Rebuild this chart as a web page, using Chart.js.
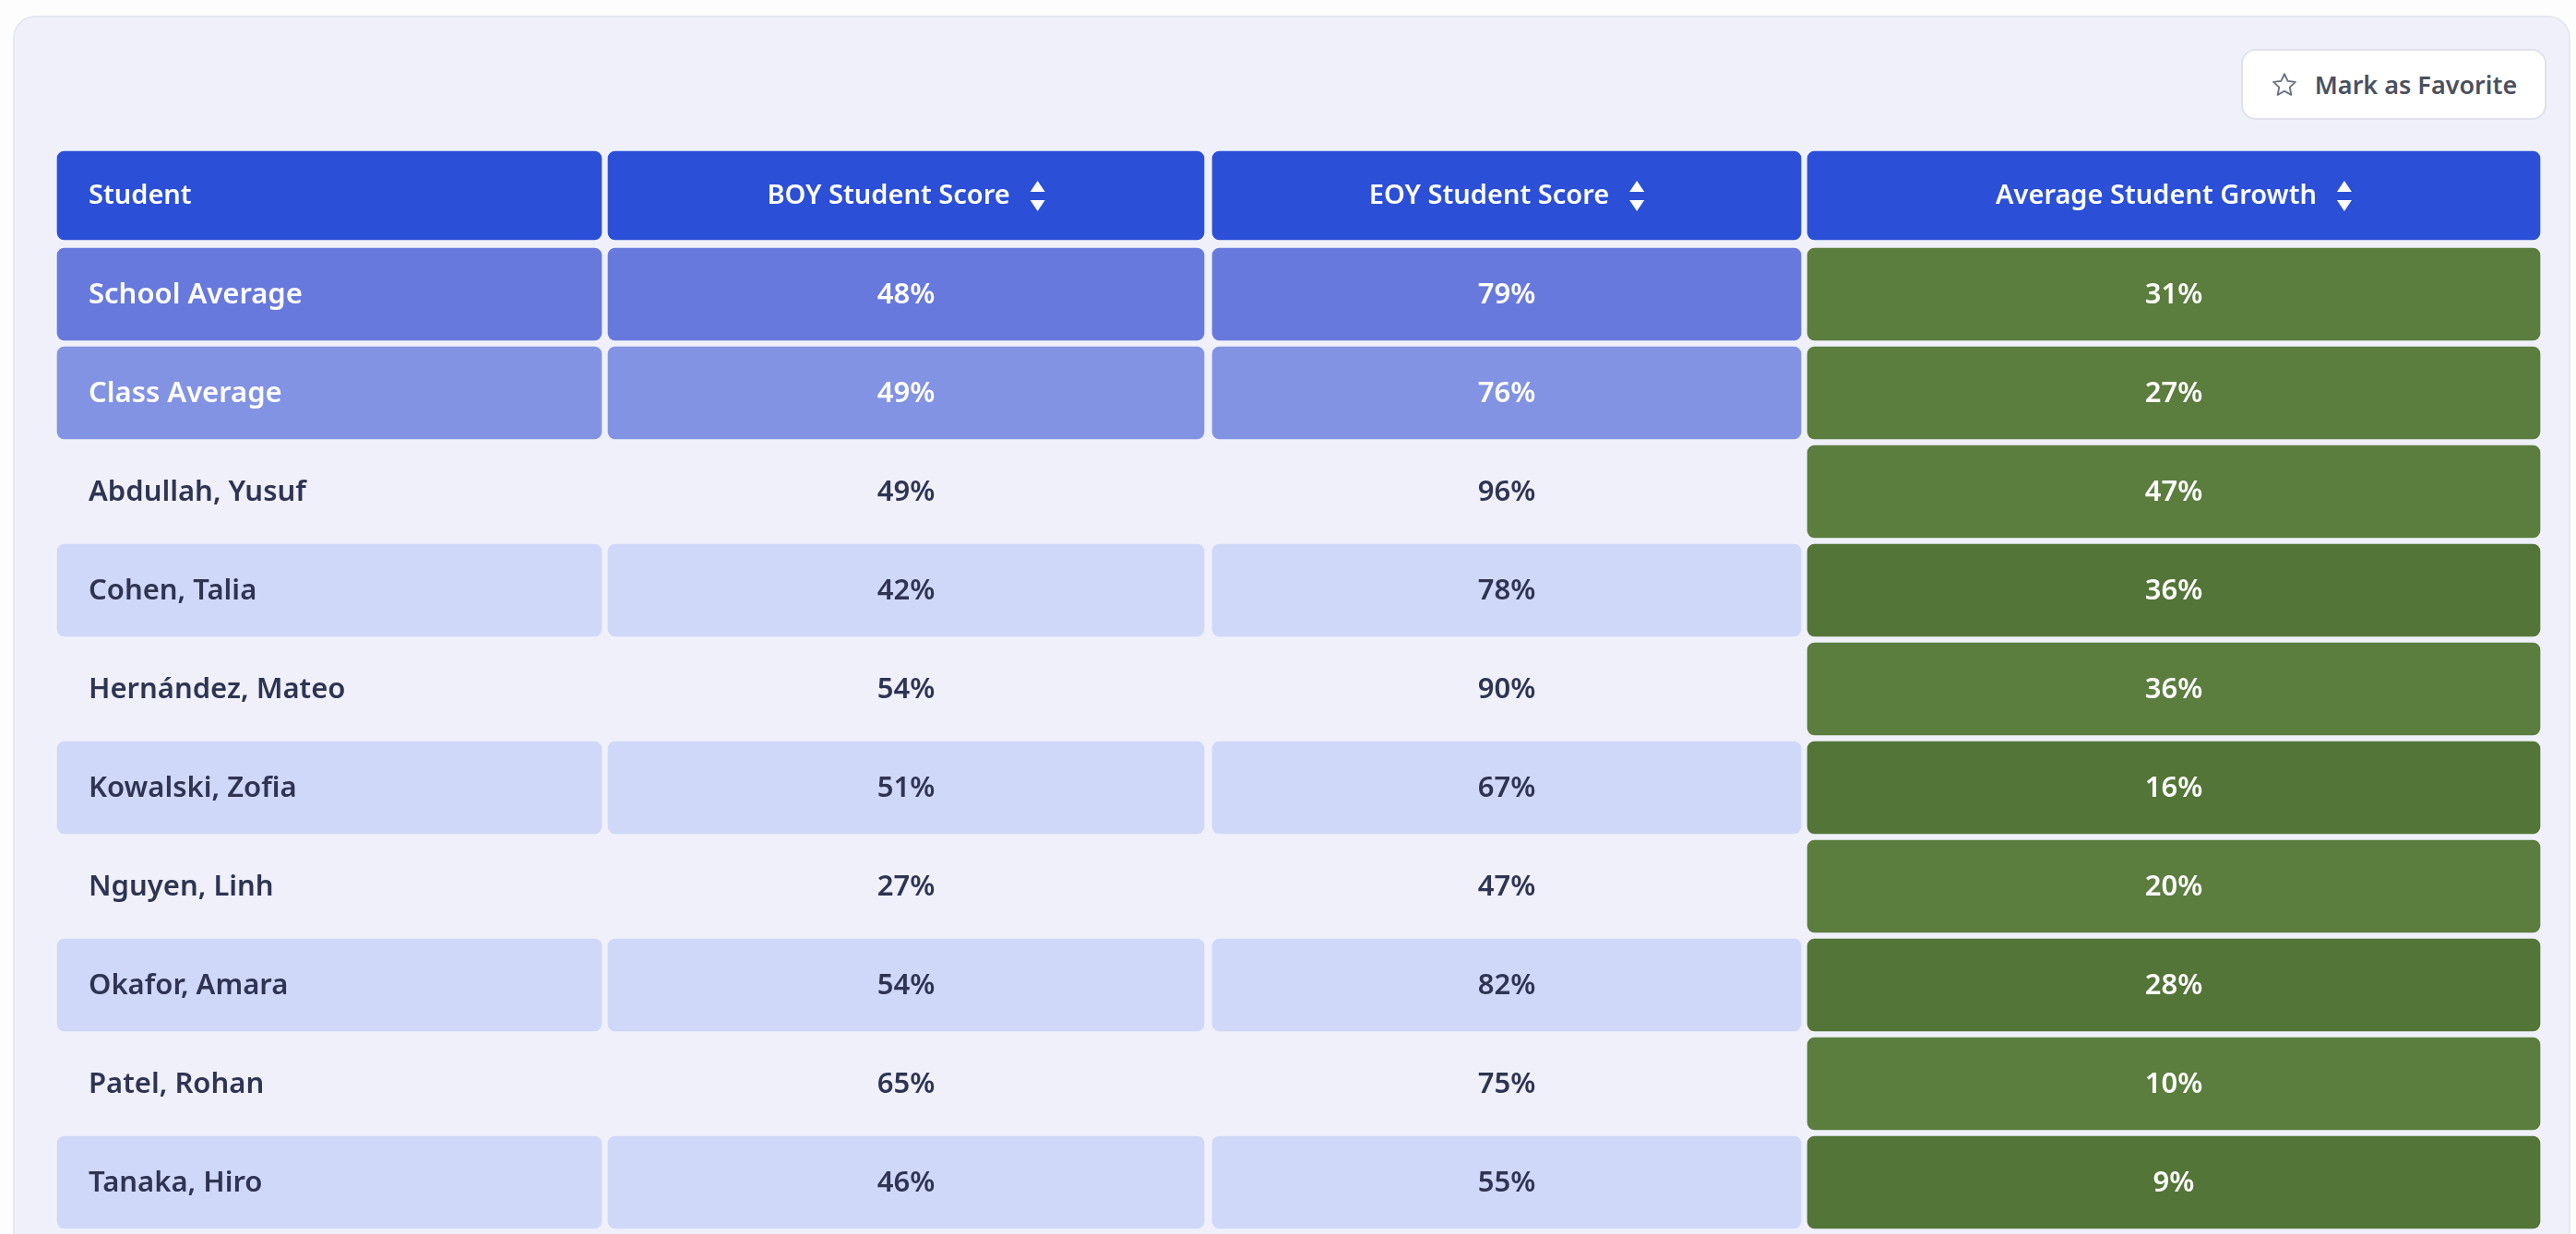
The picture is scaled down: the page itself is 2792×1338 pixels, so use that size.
<!DOCTYPE html>
<html lang="en">
<head>
<meta charset="UTF-8">
<title>Student Growth Table</title>
<script src="https://cdn.jsdelivr.net/npm/chart.js@4.4.0/dist/chart.umd.min.js"></script>
<style>
/* --- page + card ------------------------------------------------ */
html,body{margin:0;padding:0;background:#fdfdfe;width:2792px;height:1338px;overflow:hidden;font-family:'Noto Sans',Lato,sans-serif}
.card{position:absolute;left:14px;top:17px;width:2772px;height:1400px;background:#eff0fa;border:2px solid #e6e8f1;border-radius:24px;box-sizing:border-box}
#tableChart{position:absolute;left:0;top:0}
.favBtn{position:absolute;left:2429px;top:53px;width:331px;height:77px;box-sizing:border-box;background:#fff;border:2px solid #dfe2ea;border-radius:16px;display:flex;align-items:center;justify-content:center;gap:18px;font:600 27px 'Noto Sans',sans-serif;color:#4b505e}
.favBtn svg{width:30px;height:30px}
</style>
</head>
<body>

<div class="card"></div>
<canvas id="tableChart" width="2792" height="1338"></canvas>
<div class="favBtn">
  <svg viewBox="0 0 24 24"><path d="M12 2.6l2.9 6.1 6.6.8-4.9 4.6 1.3 6.6L12 17.4l-5.9 3.3 1.3-6.6-4.9-4.6 6.6-.8z" fill="none" stroke="#6b7080" stroke-width="1.5" stroke-linejoin="round"/></svg>
  <span>Mark as Favorite</span>
</div>

<script>
/* ---------- data ---------- */
const headers = ['Student', 'BOY Student Score', 'EOY Student Score', 'Average Student Growth'];
const students = ['School Average', 'Class Average', 'Abdullah, Yusuf', 'Cohen, Talia', 'Hernández, Mateo',
  'Kowalski, Zofia', 'Nguyen, Linh', 'Okafor, Amara', 'Patel, Rohan', 'Tanaka, Hiro'];
const boyScores = [48, 49, 49, 42, 54, 51, 27, 54, 65, 46];
const eoyScores = [79, 76, 96, 78, 90, 67, 47, 82, 75, 55];
const growthScores = [31, 27, 47, 36, 36, 16, 20, 28, 10, 9];

/* ---------- layout (pixel units on the x scale) ---------- */
const COLS = [[62, 652], [659, 1305], [1314, 1952], [1959, 2753]];
const rowKeys = ['header', ...students];

const C = {
  header: '#2b4fd7', school: '#6879dd', klass: '#8393e3', band: '#d0d8f9',
  green: '#5b7d3e', greenDark: '#537537', ink: '#2e3452'
};

function cellColor(col, row) {          // row = index into students
  if (col === 3) return (row >= 2 && (row - 2) % 2 === 1) ? C.greenDark : C.green;
  if (row === 0) return C.school;
  if (row === 1) return C.klass;
  return (row - 2) % 2 === 1 ? C.band : 'rgba(0,0,0,0)';
}

const datasets = [];
COLS.forEach((span, c) => {
  // header cell
  datasets.push({
    data: rowKeys.map((k, i) => i === 0 ? span : null),
    backgroundColor: C.header, barThickness: 96
  });
  // body cells
  datasets.push({
    data: rowKeys.map((k, i) => i === 0 ? null : span),
    backgroundColor: ctx => cellColor(c, ctx.dataIndex - 1), barThickness: 100
  });
});

/* ---------- text + sort icons ---------- */
const columnValues = [students, boyScores, eoyScores, growthScores];

function sortIcon(g, x, y) {
  g.beginPath();
  g.moveTo(x, y - 4); g.lineTo(x + 8, y - 16); g.lineTo(x + 16, y - 4); g.closePath();
  g.moveTo(x, y + 5); g.lineTo(x + 8, y + 17); g.lineTo(x + 16, y + 5); g.closePath();
  g.fill();
}

const cellText = {
  id: 'cellText',
  afterDatasetsDraw(chart) {
    const g = chart.ctx, xs = chart.scales.x, ys = chart.scales.y;
    g.save();
    g.textBaseline = 'middle';
    // header row
    const hy = ys.getPixelForValue(0);
    g.font = '600 29px "Noto Sans", sans-serif';
    g.fillStyle = '#fff';
    headers.forEach((h, c) => {
      const l = xs.getPixelForValue(COLS[c][0]), r = xs.getPixelForValue(COLS[c][1]);
      if (c === 0) { g.textAlign = 'left'; g.fillText(h, l + 34, hy + 1); return; }
      const w = g.measureText(h).width, total = w + 22 + 16;
      const x0 = (l + r) / 2 - total / 2;
      g.textAlign = 'left';
      g.fillText(h, x0, hy + 1);
      sortIcon(g, x0 + w + 22, hy);
    });
    // body rows
    g.font = '600 31px "Noto Sans", sans-serif';
    students.forEach((s, i) => {
      const y = ys.getPixelForValue(i + 1) + 1;
      columnValues.forEach((vals, c) => {
        const l = xs.getPixelForValue(COLS[c][0]), r = xs.getPixelForValue(COLS[c][1]);
        g.fillStyle = (c === 3 || i < 2) ? '#fff' : C.ink;
        if (c === 0) { g.textAlign = 'left'; g.fillText(vals[i], l + 34, y); }
        else { g.textAlign = 'center'; g.fillText(vals[i] + '%', (l + r) / 2, y); }
      });
    });
    g.restore();
  }
};

new Chart(document.getElementById('tableChart'), {
  type: 'bar',
  data: { labels: rowKeys, datasets },
  options: {
    indexAxis: 'y',
    responsive: false,
    animation: false,
    layout: { padding: { top: 158.5, bottom: 2.5, left: 0, right: 0 } },
    datasets: { bar: { grouped: false, borderRadius: 8, borderSkipped: false, categoryPercentage: 1, barPercentage: 1 } },
    scales: {
      x: { type: 'linear', min: 0, max: 2792, display: false },
      y: { type: 'category', display: false, offset: true }
    },
    plugins: { legend: { display: false }, tooltip: { enabled: false } }
  },
  plugins: [cellText]
});
</script>

</body>
</html>
